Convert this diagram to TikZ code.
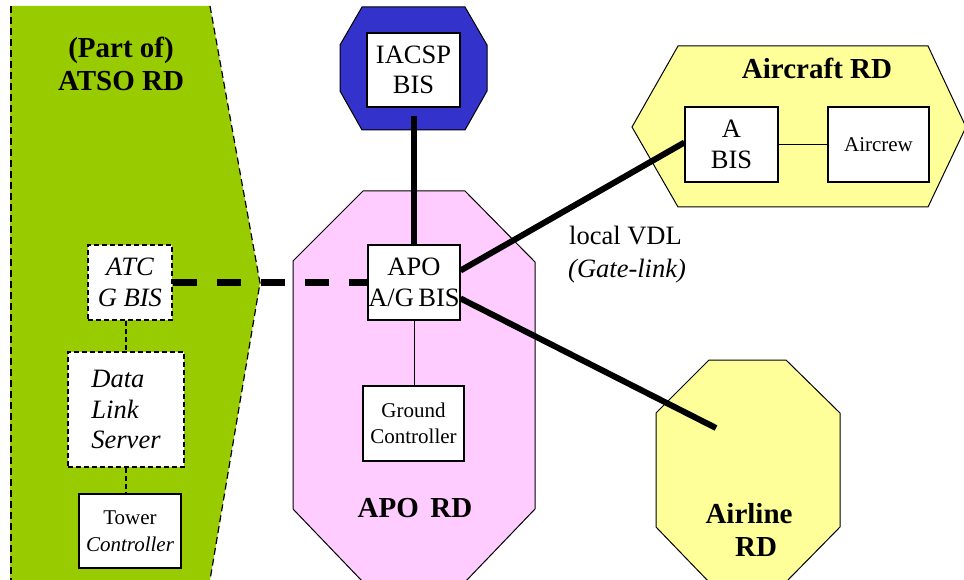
\documentclass[tikz,border=0pt]{standalone}
\usepackage{fontspec}
\setmainfont{Liberation Serif}
\newcommand\mynorm{\fontsize{26.5}{30.5}\selectfont}
\newcommand\mysmall{\fontsize{21}{26.5}\selectfont}
\newcommand\mybold{\fontsize{29}{33}\selectfont\bfseries}
\definecolor{atsogreen}{HTML}{99CC00}
\definecolor{iacspblue}{HTML}{3333CC}
\definecolor{apopink}{HTML}{FFCCFF}
\definecolor{rdyellow}{HTML}{FFFF99}
\tikzset{
  region/.style={draw=black, line width=1pt},
  box/.style={draw=black, fill=white, line width=1.2pt, inner sep=0pt, align=center, font=\mynorm},
  dbox/.style={box, dash pattern=on 5pt off 3pt, line width=1.5pt},
  heavy/.style={line width=6pt},
  heavydash/.style={line width=7pt, dash pattern=on 24pt off 20pt},
  thinlink/.style={line width=1pt},
  dlink/.style={line width=1.5pt, dash pattern=on 5pt off 3pt},
  title/.style={font=\mybold, align=center, inner sep=0pt},
  lbl/.style={font=\mynorm, anchor=west, inner sep=0pt}
}
\begin{document}
\begin{tikzpicture}[x=1pt,y=-1pt]
\useasboundingbox (0,0) rectangle (964,580);
% ATSO region
\fill[atsogreen] (10,6) -- (210,6) -- (260,283) -- (210,580) -- (10,580) -- cycle;
\draw[line width=1.2pt, dash pattern=on 7pt off 4pt] (11,6) -- (11,580);
\draw[line width=1.2pt, dash pattern=on 7pt off 4pt] (210,6) -- (260,283) -- (210,580);
% IACSP region
\filldraw[region, fill=iacspblue] (362,7) -- (465,7) -- (487,45) -- (487,91) -- (465,130) -- (362,130) -- (340,91) -- (340,45) -- cycle;
% APO region
\filldraw[region, fill=apopink] (363,191) -- (465,191) -- (535,262) -- (535,509) -- (465,582) -- (363,582) -- (293,509) -- (293,261) -- cycle;
% Aircraft region
\filldraw[region, fill=rdyellow] (678,46) -- (928,46) -- (966,127) -- (928,207) -- (678,207) -- (632,127) -- cycle;
% Airline region
\filldraw[region, fill=rdyellow] (709,360) -- (786,360) -- (840,413) -- (840,527) -- (786,582) -- (709,582) -- (656,527) -- (656,413) -- cycle;

% titles
\node[title] (atsotitle) at (121,64) {(Part of)\\ATSO RD};
\node[title] (aircrafttitle) at (817,68) {Aircraft RD};
\node[title] (apotitle) at (415,508) {APO\hspace{0.4em}RD};
\node[title] (airlinetitle) at (749,530) {Airline\\\hspace*{14pt}RD};

% boxes
\node[dbox, minimum width=84pt, minimum height=75pt] (atc) at (130,282.5) {\itshape ATC\\\itshape G BIS};
\node[dbox, minimum width=116pt, minimum height=115pt, align=left] (dls) at (126,409.5) {\itshape Data\\\itshape Link\\\itshape Server};
\node[box, font=\mysmall, minimum width=102pt, minimum height=74pt] (tower) at (130,531) {Tower\\\itshape Controller};
\node[box, minimum width=93pt, minimum height=74pt] (iacsp) at (413.5,70) {IACSP\\BIS};
\node[box, minimum width=92pt, minimum height=75pt] (apo) at (414,282.5) {APO\\A/G\,BIS};
\node[box, font=\mysmall, minimum width=101pt, minimum height=75pt] (ground) at (413.5,423.5) {Ground\\Controller};
\node[box, minimum width=93pt, minimum height=75pt] (abis) at (731.5,144.5) {A\\BIS};
\node[box, font=\mysmall, minimum width=101pt, minimum height=75pt] (aircrew) at (878.5,144.5) {Aircrew};

% labels
\node[lbl] (vdl) at (569,236) {local VDL};
\node[lbl] (gate) at (568,271) {\itshape (Gate-link)};

% connectors
\coordinate (airend) at (716,428);
\draw[heavy] ([yshift=-8pt]iacsp.south) -- (iacsp.south |- apo.north);
\draw[heavy] ([yshift=12pt]apo.east) -- ([yshift=2pt]abis.west);
\draw[heavy] ([yshift=-16pt]apo.east) -- (airend);
\draw[heavydash] (atc.east) -- (apo.west);
\draw[thinlink] (apo.south) -- (apo.south |- ground.north);
\draw[thinlink] (abis.east) -- (aircrew.west);
\draw[dlink] (dls.north |- atc.south) -- (dls.north);
\draw[dlink] (dls.south) -- (dls.south |- tower.north);
\end{tikzpicture}
\end{document}
